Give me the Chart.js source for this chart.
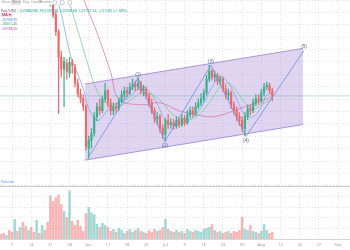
<!DOCTYPE html>
<html>
<head>
<meta charset="utf-8">
<script src="https://cdn.jsdelivr.net/npm/chart.js@4"></script>
<style>
  html, body { margin: 0; padding: 0; background: #fff; }
  #chart { display: block; }
</style>
</head>
<body>
<canvas id="chart" width="350" height="250"></canvas>
<script>
// Daily candles (price), oldest first
const openP = [23900,23800,23700,23900,23760,23600,23680,23560,23720,23600,23500,23640,23540,23400,23480,23360,23440,23280,
  23200,22920,22700,22360,21840,21600,21720,21520,21740,21640,21320,21100,21000,20840,20000,20160,20300,20640,20840,20760,21000,21160,
  20920,20760,20840,20800,20960,21080,21160,21120,21240,21300,21240,21320,21160,21200,21060,20920,20760,20600,20640,20400,
  20280,20560,20480,20520,20440,20560,20480,20600,20520,20680,20760,20700,20840,20920,21000,21120,21400,21560,21440,21480,
  21360,21400,21200,21080,21120,20880,20760,20640,20560,20400,20640,20800,20760,20920,21000,20960,21120,21240,21280,21160];
const highP = [23980,23880,23980,23980,23840,23760,23760,23800,23800,23680,23720,23720,23620,23560,23560,23520,23520,23360,
  23240,22960,22760,22400,21960,21840,21800,21840,21800,21700,21400,21200,21080,20880,20240,20400,20720,20920,21000,21060,21320,21200,
  21000,20920,20920,21020,21160,21240,21240,21320,21400,21360,21440,21360,21280,21240,21120,21000,20820,20720,20680,20480,
  20600,20680,20600,20580,20640,20620,20680,20660,20760,20840,20840,20920,21000,21100,21200,21480,21680,21600,21560,21520,
  21460,21440,21280,21200,21160,20940,20840,20720,20640,20720,20880,20880,21000,21080,21080,21200,21320,21340,21320,21220];
const lowP = [23720,23620,23620,23680,23520,23520,23480,23480,23520,23420,23420,23460,23320,23320,23280,23280,23200,23120,
  22880,22640,22280,20700,21440,20840,21400,21440,21520,21240,21040,20920,20760,19960,19800,20000,20240,20560,20680,20720,20940,20840,
  20680,20680,20720,20760,20920,21020,21040,21080,21180,21160,21180,21100,21060,21000,20840,20700,20520,20480,20320,20200,
  20140,20400,20400,20380,20400,20420,20440,20460,20480,20620,20640,20660,20800,20860,20940,21080,21340,21380,21360,21280,
  21280,21140,21000,20980,20800,20680,20560,20460,20340,20260,20580,20680,20720,20860,20880,20920,21060,21180,21100,20960];
const closeP = [23800,23700,23900,23760,23600,23680,23560,23720,23600,23500,23640,23540,23400,23480,23360,23440,23280,23200,
  22920,22700,22360,21840,21600,21760,21560,21740,21680,21320,21100,21000,20840,20040,20160,20300,20640,20840,20760,21000,21160,20920,
  20760,20840,20800,20960,21080,21160,21120,21240,21300,21240,21320,21160,21200,21060,20920,20760,20600,20640,20400,20280,
  20560,20480,20520,20440,20560,20480,20600,20520,20680,20760,20700,20840,20920,21000,21120,21400,21560,21440,21480,21360,
  21400,21200,21080,21120,20880,20760,20640,20560,20400,20640,20800,20760,20920,21000,20960,21120,21240,21280,21160,21060];
const volume = [500,600,400,900,700,2000,800,1200,1700,1300,900,1200,700,1900,600,1400,900,1700,
  4400,3800,4200,4500,3500,2800,2200,4900,1800,1400,1900,1300,800,2600,3200,2700,2500,1500,1200,1600,1400,1200,
  800,1000,700,1100,900,600,800,1000,700,900,1100,800,700,600,900,700,1000,800,900,1200,
  2000,1000,800,700,900,700,800,600,1000,800,700,900,800,700,1000,1100,1200,1500,900,700,
  800,600,700,800,600,800,700,900,2200,1000,900,1400,800,700,600,800,1500,900,600,700];

// Weekly tick labels (bar index -> label)
const tickIndex = [4,11,18,25,32,39,46,53,60,67,74,81,88,95,102,109,116,123];
const tickLabels = ["7","14","21","28","Jun","11","18","25","Jul","9","16","23","30","Aug","13","20","27","Sep"];

// Moving averages, read at sample bars
const maFastX = [18,20,22,24,26,28,30,32,35,37,40,43,47,51,54,57,60,63,67,71,74,77,80,83,86,89,92,95,97,99];
const maFastY = [23800,23100,22720,22200,21760,21500,21200,20800,20560,20640,20840,20920,21040,21240,21160,20900,20560,20480,20520,20680,20920,21240,21440,21320,21000,20680,20640,20840,21080,21120];
const maMidX = [22,24,26,29,32,35,38,41,44,48,51,55,59,62,66,70,73,77,80,83,86,89,92,95,99];
const maMidY = [23500,23100,22760,22200,21640,21160,20920,20840,20880,21000,21120,21080,20920,20720,20600,20600,20720,21000,21240,21320,21160,20920,20800,20880,21000];
const maSlowX = [28,30,35,40,43,51,58,65,73,78,85,94,99];
const maSlowY = [23400,23040,22340,21540,21000,20880,20920,20760,20660,20640,20760,20940,21040];

// Elliott wave points and channel
const waveX = [31.7,50,59.8,76.6,89.4,110.6];
const waveY = [19800,21420,20140,21680,20240,21980];
const waveLabels = ["","(1)","(2)","(3)","(4)","(5)"];
const chanX = [30.6,110.2];
const chanTop = [21300,22020];
const chanBottom = [19760,20480];

const UP = "#3bb08f", DOWN = "#f06868";
const GRID = "rgba(120,120,140,0.2)";
const FONT = "'Noto Sans', sans-serif";

function pts(xs, ys) { return xs.map((x, i) => ({ x: x, y: ys[i] })); }
const isUp = i => closeP[i] >= openP[i];

const lastClose = closeP[closeP.length - 1];

const overlay = {
  id: "overlay",
  afterDatasetsDraw(chart) {
    const ctx = chart.ctx, xs = chart.scales.x, ys = chart.scales.y;
    ctx.save();
    ctx.font = "4.5px " + FONT;
    ctx.textAlign = "center";
    ctx.textBaseline = "middle";
    ctx.fillStyle = "#4a5a8a";
    for (let k = 1; k < waveX.length; k++) {
      const px = xs.getPixelForValue(waveX[k]);
      const py = ys.getPixelForValue(waveY[k]) + (k % 2 ? -3.5 : 4);
      ctx.fillText(waveLabels[k], px, py);
    }
    ctx.restore();
  },
  afterDraw(chart) {
    const ctx = chart.ctx;
    ctx.save();
    // pane separator
    const sepY = Math.round(chart.scales.yv.top) + 0.5;
    ctx.strokeStyle = "#cfcfd4";
    ctx.lineWidth = 1;
    ctx.beginPath(); ctx.moveTo(0, sepY); ctx.lineTo(350, sepY); ctx.stroke();

    // toolbar
    ctx.fillStyle = "#ffffff";
    ctx.fillRect(0, 0, 80, 5);
    ctx.fillStyle = "#e6e6ea";
    ctx.fillRect(11, 0, 10, 5);
    ctx.font = "3.4px " + FONT;
    ctx.textBaseline = "middle";
    ctx.fillStyle = "#8a8a92";
    [["Hour", 2], ["Week", 12], ["Day", 23], ["Candle", 31], ["Presets", 40]].forEach(t => ctx.fillText(t[0], t[1], 2.5));
    ctx.strokeStyle = "#b0b0b8"; ctx.lineWidth = 0.6;
    [53, 60.5, 68].forEach(x => ctx.strokeRect(x, 0.8, 3.5, 3.5));

    // legend
    ctx.font = "3.6px " + FONT;
    ctx.fillStyle = "#555";
    ctx.fillText("Pair/USD ·", 1, 11);
    ctx.fillStyle = "#26a69a";
    ctx.fillText("O20882.80  H21039.98  L20568.68  C21025.54  +223.80 (+1.08%)", 20, 11);
    ctx.fillStyle = "#f6d6e6";
    ctx.fillRect(1, 13, 11, 3.6);
    ctx.fillStyle = "#c2185b";
    ctx.fillText("MA  ▾", 2, 14.9);
    ctx.fillStyle = "#4a8cf0"; ctx.fillText("20768.95", 2, 19.5);
    ctx.fillStyle = "#3fae6a"; ctx.fillText("20601.45", 2, 24);
    ctx.fillStyle = "#c45a9c"; ctx.fillText("20738.06", 2, 28.6);
    ctx.fillStyle = "#4a8cf0"; ctx.fillText("Volume", 1, 182);
    ctx.restore();
  }
};

new Chart(document.getElementById("chart"), {
  type: "line",
  data: {
    datasets: [
      { type: "line", data: pts(chanX, chanTop), yAxisID: "y", borderColor: "#9a80d0", borderWidth: 0.8,
        pointRadius: 0, fill: false, order: 10 },
      { type: "line", data: pts(chanX, chanBottom), yAxisID: "y", borderColor: "#9a80d0", borderWidth: 0.8,
        pointRadius: 0, fill: "-1", backgroundColor: "rgba(149,117,205,0.30)", order: 10 },
      { type: "line", data: [{ x: -1, y: lastClose }, { x: 130, y: lastClose }], yAxisID: "y",
        borderColor: "rgba(38,166,154,0.45)", borderWidth: 0.7, pointRadius: 0, order: 9 },
      { type: "line", data: pts(maSlowX, maSlowY), yAxisID: "y", borderColor: "#d679b4", borderWidth: 0.8,
        pointRadius: 0, tension: 0.4, order: 8 },
      { type: "line", data: pts(maMidX, maMidY), yAxisID: "y", borderColor: "#7ccf9a", borderWidth: 0.8,
        pointRadius: 0, tension: 0.4, order: 8 },
      { type: "line", data: pts(maFastX, maFastY), yAxisID: "y", borderColor: "#7ea8f2", borderWidth: 0.8,
        pointRadius: 0, tension: 0.4, order: 8 },
      { type: "bar", data: volume.map((v, i) => ({ x: i, y: v })), yAxisID: "yv", grouped: false,
        barThickness: 1.9, backgroundColor: volume.map((v, i) => isUp(i) ? "rgba(38,166,154,0.42)" : "rgba(239,83,80,0.42)"),
        order: 7 },
      { type: "bar", data: lowP.map((v, i) => ({ x: i, y: [v, highP[i]] })), yAxisID: "y", grouped: false,
        barThickness: 0.6, backgroundColor: openP.map((v, i) => isUp(i) ? UP : DOWN), order: 6 },
      { type: "bar", data: openP.map((v, i) => ({ x: i, y: [v, closeP[i]] })), yAxisID: "y", grouped: false,
        barThickness: 1.5, backgroundColor: openP.map((v, i) => isUp(i) ? UP : DOWN), order: 5 },
      { type: "line", data: pts(waveX, waveY), yAxisID: "y", borderColor: "#6f8fe0", borderWidth: 0.8,
        pointRadius: 0, tension: 0, order: 1 }
    ]
  },
  options: {
    responsive: false,
    devicePixelRatio: 1,
    animation: false,
    layout: { padding: 0 },
    plugins: { legend: { display: false }, tooltip: { enabled: false } },
    scales: {
      x: {
        type: "linear", position: "bottom", min: -0.38, max: 127.36, offset: false,
        afterBuildTicks: s => { s.ticks = tickIndex.map(v => ({ value: v })); },
        ticks: {
          autoSkip: false, maxRotation: 0, padding: 3, color: "#9a9aa2",
          font: { size: 4, family: FONT },
          callback: v => tickLabels[tickIndex.indexOf(v)]
        },
        grid: { color: GRID, drawTicks: false, offset: false },
        border: { display: true, color: "#d8d8dc", dash: [1, 2] }
      },
      y: {
        type: "linear", position: "right", stack: "panes", stackWeight: 188,
        min: 19240, max: 23000,
        ticks: { display: false, stepSize: 250 },
        grid: { color: GRID, drawTicks: false },
        border: { display: false, dash: [1, 2] }
      },
      yv: {
        type: "linear", position: "right", stack: "panes", stackWeight: 54,
        min: 0, max: 5400,
        ticks: { display: false, stepSize: 1000 },
        grid: { color: GRID, drawTicks: false },
        border: { display: false, dash: [1, 2] }
      }
    }
  },
  plugins: [overlay]
});
</script>
</body>
</html>
